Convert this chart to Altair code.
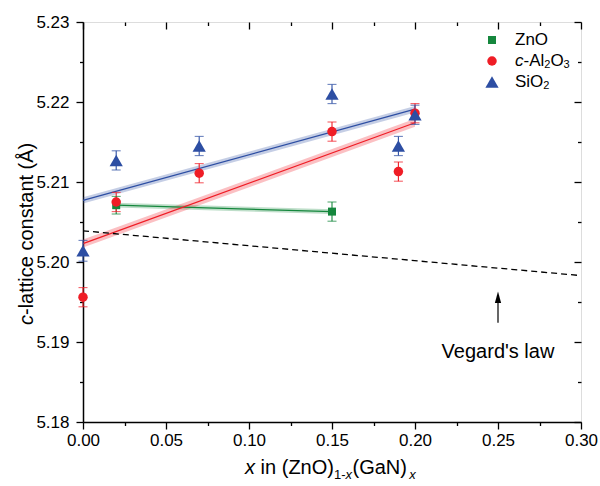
import altair as alt
import pandas as pd

FONT = "Liberation Sans"

# ---------------- data ----------------
zno_x = [0.02, 0.15]
zno_y = [5.2071, 5.2063]
zno_err = [0.0011, 0.0012]

al2o3_x = [0.00, 0.02, 0.07, 0.15, 0.19, 0.20]
al2o3_y = [5.1956, 5.2075, 5.2111, 5.2163, 5.2113, 5.2186]
al2o3_err = [0.0012, 0.0012, 0.0012, 0.0012, 0.0012, 0.0012]

sio2_x = [0.00, 0.02, 0.07, 0.15, 0.19, 0.20]
sio2_y = [5.2014, 5.2127, 5.2145, 5.2210, 5.2145, 5.2184]
sio2_err = [0.0013, 0.0012, 0.0012, 0.0012, 0.0012, 0.0012]

# linear fits (end points) and half-width of their shaded bands
fit_zno_x = [0.02, 0.15]
fit_zno_y = [5.2071, 5.2063]
fit_zno_band = [0.0003, 0.0003]
fit_al2o3_x = [0.00, 0.20]
fit_al2o3_y = [5.2023, 5.2174]
fit_al2o3_band = [0.0005, 0.0005]
fit_sio2_x = [0.00, 0.20]
fit_sio2_y = [5.2077, 5.2191]
fit_sio2_band = [0.0004, 0.0004]

vegard_x = [0.00, 0.30]
vegard_y = [5.2039, 5.1983]

arrow_x = [0.25]
arrow_y_start = [5.1924]
arrow_y_end = [5.1956]
label_x = [0.25]
label_y = [5.1880]
label_text = ["Vegard's law"]

series_names = ["ZnO", "Al2O3", "SiO2"]
series_colors = ["#15873d", "#ef1d26", "#2d4ea3"]
series_shapes = ["square", "circle", "triangle-up"]
series_sizes = [64, 90, 175]

x_major = [0.00, 0.05, 0.10, 0.15, 0.20, 0.25, 0.30]
x_minor = [0.025, 0.075, 0.125, 0.175, 0.225, 0.275]
y_major = [5.18, 5.19, 5.20, 5.21, 5.22, 5.23]
y_minor = [5.185, 5.195, 5.205, 5.215, 5.225]

# ---------------- tables ----------------
pts = pd.concat([
    pd.DataFrame({"series": "ZnO", "x": zno_x, "y": zno_y, "err": zno_err}),
    pd.DataFrame({"series": "Al2O3", "x": al2o3_x, "y": al2o3_y, "err": al2o3_err}),
    pd.DataFrame({"series": "SiO2", "x": sio2_x, "y": sio2_y, "err": sio2_err}),
], ignore_index=True)

fits = pd.concat([
    pd.DataFrame({"series": "ZnO", "x": fit_zno_x, "y": fit_zno_y, "b": fit_zno_band}),
    pd.DataFrame({"series": "Al2O3", "x": fit_al2o3_x, "y": fit_al2o3_y, "b": fit_al2o3_band}),
    pd.DataFrame({"series": "SiO2", "x": fit_sio2_x, "y": fit_sio2_y, "b": fit_sio2_band}),
], ignore_index=True)

vegard = pd.DataFrame({"x": vegard_x, "y": vegard_y})
arrow = pd.DataFrame({"x": arrow_x, "y0": arrow_y_start, "y1": arrow_y_end})
label = pd.DataFrame({"x": label_x, "y": label_y, "t": label_text})

xs = alt.Scale(domain=[0.0, 0.30], nice=False, zero=False)
ys = alt.Scale(domain=[5.18, 5.23], nice=False, zero=False)
cs = alt.Scale(domain=series_names, range=series_colors)

AX = dict(grid=False, title=None, tickColor="black", tickWidth=1.3,
          domainColor="black", domainWidth=1.5, labelColor="black",
          labelFont=FONT, labelFontSize=17)

def axis_major_bottom():
    return alt.Axis(orient="bottom", values=x_major, format=".2f", tickSize=7,
                    labelPadding=3, labelFlush=False, labelOverlap=False, **AX)

def axis_major_left():
    return alt.Axis(orient="left", values=y_major, format=".2f", tickSize=7,
                    labelPadding=7, labelOverlap=False, **AX)

def axis_simple(orient, values, size, offset=0):
    return alt.Axis(orient=orient, values=values, tickSize=size, labels=False,
                    domain=False, offset=offset, **AX)

NOAX = None

# shaded confidence bands
bands = alt.Chart(fits).transform_calculate(
    lo="datum.y - datum.b", hi="datum.y + datum.b"
).mark_area(opacity=0.28).encode(
    x=alt.X("x:Q", scale=xs, axis=NOAX),
    y=alt.Y("lo:Q", scale=ys, axis=NOAX),
    y2="hi:Q",
    color=alt.Color("series:N", scale=cs, legend=None),
    detail="series:N",
)

# fit lines (carry top/right minor ticks)
lines = alt.Chart(fits).mark_line(strokeWidth=1.2).encode(
    x=alt.X("x:Q", scale=xs, axis=axis_simple("top", x_minor, 3.5, -3.5)),
    y=alt.Y("y:Q", scale=ys, axis=axis_simple("right", y_minor, 3.5, -3.5)),
    color=alt.Color("series:N", scale=cs, legend=None),
    detail="series:N",
)

veg = alt.Chart(vegard).mark_line(color="black", strokeWidth=1.3, strokeDash=[6, 4]).encode(
    x=alt.X("x:Q", scale=xs, axis=NOAX),
    y=alt.Y("y:Q", scale=ys, axis=NOAX),
)

# error bars (carry bottom/left minor ticks)
err_rules = alt.Chart(pts).transform_calculate(
    lo="datum.y - datum.err", hi="datum.y + datum.err"
).mark_rule(strokeWidth=1.1).encode(
    x=alt.X("x:Q", scale=xs, axis=axis_simple("bottom", x_minor, 3.5)),
    y=alt.Y("lo:Q", scale=ys, axis=axis_simple("left", y_minor, 3.5)),
    y2="hi:Q",
    color=alt.Color("series:N", scale=cs, legend=None),
)

caps = alt.Chart(pts).transform_calculate(
    lo="datum.y - datum.err", hi="datum.y + datum.err"
).transform_fold(["lo", "hi"], as_=["k", "v"]).mark_tick(
    orient="horizontal", size=9, thickness=1.1
).encode(
    x=alt.X("x:Q", scale=xs, axis=axis_simple("top", x_major, 7, -7)),
    y=alt.Y("v:Q", scale=ys, axis=axis_simple("right", y_major, 7, -7)),
    color=alt.Color("series:N", scale=cs, legend=None),
)

point_layers = []
for i, name in enumerate(series_names):
    first = i == 0
    point_layers.append(
        alt.Chart(pts).transform_filter(alt.datum.series == name).mark_point(
            filled=True, opacity=1, shape=series_shapes[i],
            size=series_sizes[i], color=series_colors[i],
        ).encode(
            x=alt.X("x:Q", scale=xs, axis=axis_major_bottom() if first else NOAX),
            y=alt.Y("y:Q", scale=ys, axis=axis_major_left() if first else NOAX),
        )
    )

arrow_shaft = alt.Chart(arrow).mark_rule(color="black", strokeWidth=1.2).encode(
    x=alt.X("x:Q", scale=xs, axis=NOAX),
    y=alt.Y("y0:Q", scale=ys, axis=NOAX),
    y2="y1:Q",
)
arrow_head = alt.Chart(arrow).mark_point(
    shape="M0,-1L-0.55,1L0.55,1Z", filled=True, color="black", opacity=1, size=130
).encode(
    x=alt.X("x:Q", scale=xs, axis=NOAX),
    y=alt.Y("y1:Q", scale=ys, axis=NOAX),
)
label_mark = alt.Chart(label).mark_text(
    font=FONT, fontSize=20, color="black", align="center", baseline="alphabetic"
).encode(
    x=alt.X("x:Q", scale=xs, axis=NOAX),
    y=alt.Y("y:Q", scale=ys, axis=NOAX),
    text="t:N",
)

# ---------------- rich text pieces (titles and legend) ----------------
def txt(s, x, y, size, italic=False, angle=0, align="left", baseline="alphabetic"):
    return alt.Chart(pd.DataFrame({"t": [s]})).mark_text(
        font=FONT, fontSize=size, fontStyle="italic" if italic else "normal",
        angle=angle, align=align, baseline=baseline, color="black",
    ).encode(x=alt.value(x), y=alt.value(y), text="t:N")

def sym(shape, color, size, x, y):
    return alt.Chart(pd.DataFrame({"a": [0]})).mark_point(
        shape=shape, filled=True, color=color, opacity=1, size=size
    ).encode(x=alt.value(x), y=alt.value(y))

X0 = 162
XB = 452
x_title = [
    txt("x", X0, XB, 20, italic=True),
    txt("in (ZnO)", X0 + 15.6, XB, 20),
    txt("1-", X0 + 88.9, XB + 5, 13),
    txt("x", X0 + 100.5, XB + 5, 13, italic=True),
    txt("(GaN)", X0 + 107.5, XB, 20),
    txt("x", X0 + 164.2, XB + 5, 13, italic=True),
]

YX = -50
Y0 = 303
y_title = [
    txt("c", YX, Y0, 20, italic=True, angle=270),
    txt("-lattice constant (Å)", YX, Y0 - 10, 20, angle=270),
]

LX = 409
LT = 432
legend = [
    sym("square", series_colors[0], 64, LX, 18),
    sym("circle", series_colors[1], 90, LX, 39),
    sym("triangle-up", series_colors[2], 175, LX, 60),
    txt("ZnO", LT, 18, 17, baseline="middle"),
    txt("c", LT, 39, 17, italic=True, baseline="middle"),
    txt("-Al", LT + 8.5, 39, 17, baseline="middle"),
    txt("2", LT + 29.3, 43, 11, baseline="middle"),
    txt("O", LT + 35.4, 39, 17, baseline="middle"),
    txt("3", LT + 48.6, 43, 11, baseline="middle"),
    txt("SiO", LT, 60, 17, baseline="middle"),
    txt("2", LT + 28.3, 64, 11, baseline="middle"),
]

chart = alt.layer(
    bands, lines, veg, err_rules, caps, *point_layers,
    arrow_shaft, arrow_head, label_mark,
    *x_title, *y_title, *legend,
).resolve_axis(
    x="independent", y="independent"
).properties(
    width=498, height=400,
    autosize=alt.AutoSizeParams(type="none"),
    padding={"left": 83, "top": 22, "right": 19, "bottom": 64},
).configure_view(
    stroke="black", strokeWidth=1.5
).configure(
    font=FONT, background="white"
)

chart.save("out.html", embed_options={"renderer": "svg", "actions": False})
